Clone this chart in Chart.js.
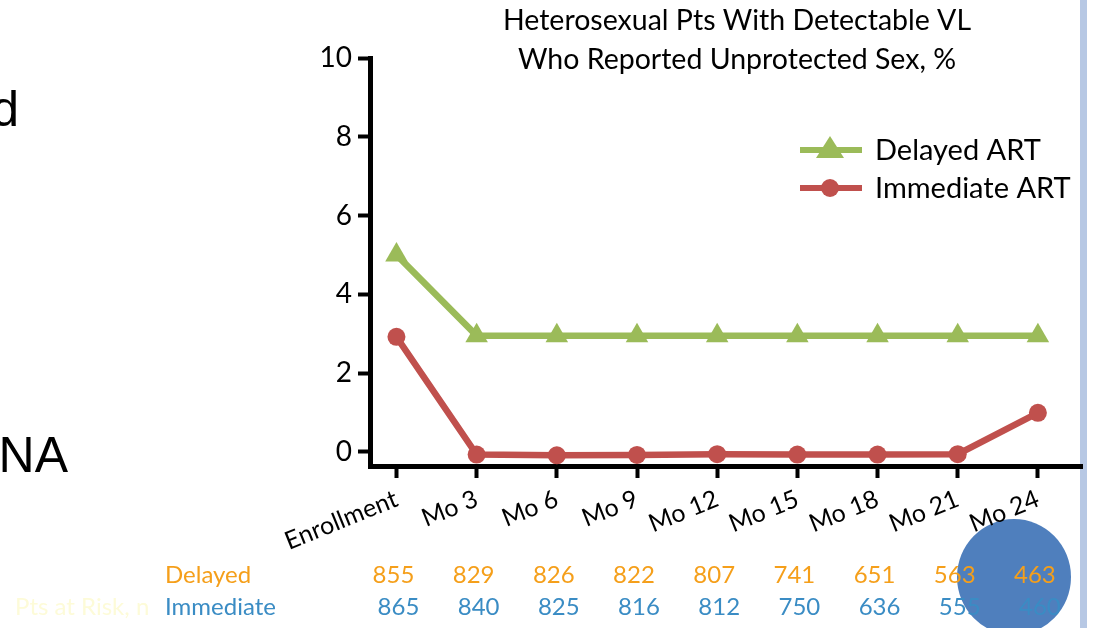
<!DOCTYPE html>
<html>
<head>
<meta charset="utf-8">
<script src="https://cdn.jsdelivr.net/npm/chart.js@4.4.1/dist/chart.umd.min.js"></script>
<style>
  html, body { margin: 0; padding: 0; background: #ffffff; }
  #wrap { position: relative; width: 1095px; height: 628px; overflow: hidden; }
  canvas { display: block; }
</style>
</head>
<body>
<div id="wrap"><canvas id="c" width="1095" height="628"></canvas></div>
<script>
// Visit labels along the x axis
const categories = ['Enrollment', 'Mo 3', 'Mo 6', 'Mo 9', 'Mo 12', 'Mo 15', 'Mo 18', 'Mo 21', 'Mo 24'];
// % reporting unprotected sex, by arm
const delayedPct = [5.0, 2.95, 2.95, 2.95, 2.95, 2.95, 2.95, 2.95, 2.95];
const immediatePct = [2.92, -0.07, -0.09, -0.08, -0.06, -0.07, -0.07, -0.06, 0.99];
// y axis ticks
const yTicks = [0, 2, 4, 6, 8, 10];
// patients at risk, by arm
const delayedAtRisk = [855, 829, 826, 822, 807, 741, 651, 563, 463];
const immediateAtRisk = [865, 840, 825, 816, 812, 750, 636, 555, 460];
const titleLines = ['Heterosexual Pts With Detectable VL', 'Who Reported Unprotected Sex, %'];

const FONT = 'Lato, "Open Sans", sans-serif';
const GREEN = '#9bbb59';
const RED = '#c0504d';
const ORANGE = '#f59f1a';
const BLUE = '#3a8cc4';

const decor = {
  id: 'decor',
  beforeDraw(chart) {
    const ctx = chart.ctx;
    ctx.save();
    // slide backdrop pieces
    ctx.fillStyle = '#4f7fbd';
    ctx.beginPath();
    ctx.ellipse(1014, 577, 57, 58, 0, 0, Math.PI * 2);
    ctx.fill();
    ctx.fillStyle = '#b7c8e4';
    ctx.fillRect(1080, 0, 7, 628);
    ctx.fillStyle = '#000';
    ctx.font = '50px "Liberation Sans", Arial, sans-serif';
    ctx.textAlign = 'right';
    ctx.textBaseline = 'alphabetic';
    ctx.fillText('d', 19, 126);
    ctx.fillText('RNA', 68, 472);
    ctx.restore();
  },
  afterDraw(chart) {
    const ctx = chart.ctx;
    const xs = chart.scales.x;
    ctx.save();
    // title
    ctx.fillStyle = '#000';
    ctx.font = '28.5px ' + FONT;
    ctx.textAlign = 'center';
    ctx.textBaseline = 'middle';
    ctx.fillText(titleLines[0], 737, 21);
    ctx.fillText(titleLines[1], 737, 60);

    // legend
    chart.data.datasets.forEach((ds, i) => {
      const y = 150 + i * 38;
      ctx.strokeStyle = ds.borderColor;
      ctx.lineWidth = 6;
      ctx.beginPath();
      ctx.moveTo(800, y);
      ctx.lineTo(862, y);
      ctx.stroke();
      ctx.fillStyle = ds.borderColor;
      ctx.beginPath();
      if (ds.pointStyle === 'triangle') {
        ctx.moveTo(830, y - 14);
        ctx.lineTo(844, y + 8);
        ctx.lineTo(816, y + 8);
        ctx.closePath();
      } else {
        ctx.arc(830, y, 9, 0, Math.PI * 2);
      }
      ctx.fill();
      ctx.fillStyle = '#000';
      ctx.font = '29px ' + FONT;
      ctx.textAlign = 'left';
      ctx.textBaseline = 'middle';
      ctx.fillText(ds.label, 875, y + 1);
    });

    // patients at risk table
    ctx.font = '24px ' + FONT;
    ctx.textBaseline = 'middle';
    ctx.textAlign = 'left';
    ctx.fillStyle = '#fdfbd8';
    ctx.fillText('Pts at Risk, n', 15, 607);
    ctx.fillStyle = ORANGE;
    ctx.fillText('Delayed', 165, 575);
    ctx.fillStyle = BLUE;
    ctx.fillText('Immediate', 165, 607);
    ctx.textAlign = 'center';
    categories.forEach((c, i) => {
      const x = xs.getPixelForValue(i);
      ctx.fillStyle = ORANGE;
      ctx.fillText(String(delayedAtRisk[i]), x - 3, 575);
      ctx.fillStyle = BLUE;
      ctx.fillText(String(immediateAtRisk[i]), x + 2, 607);
    });
    ctx.restore();
  }
};

new Chart(document.getElementById('c'), {
  type: 'line',
  data: {
    datasets: [
      {
        label: 'Delayed ART',
        data: delayedPct.map((v, i) => ({ x: i, y: v })),
        borderColor: GREEN,
        backgroundColor: GREEN,
        borderWidth: 6.5,
        pointStyle: 'triangle',
        pointRadius: 13,
        pointBorderWidth: 0,
        tension: 0
      },
      {
        label: 'Immediate ART',
        data: immediatePct.map((v, i) => ({ x: i, y: v })),
        borderColor: RED,
        backgroundColor: RED,
        borderWidth: 6.5,
        pointStyle: 'circle',
        pointRadius: 9,
        pointBorderWidth: 0,
        tension: 0
      }
    ]
  },
  options: {
    responsive: false,
    animation: false,
    layout: { padding: { top: 58, right: 8, left: 0, bottom: 0 } },
    plugins: { legend: { display: false }, title: { display: false }, tooltip: { enabled: false } },
    scales: {
      x: {
        type: 'linear',
        min: -0.33,
        max: 8.55,
        afterBuildTicks(scale) { scale.ticks = categories.map((_, i) => ({ value: i })); },
        afterFit(scale) { scale.height = 162; },
        border: { display: true, color: '#000', width: 5 },
        grid: { drawOnChartArea: false, drawTicks: true, tickLength: 12, tickWidth: 4, tickColor: '#000' },
        ticks: {
          color: '#000',
          font: { family: FONT, size: 25 },
          minRotation: 22,
          maxRotation: 22,
          padding: 6,
          callback: (v) => categories[v]
        }
      },
      y: {
        min: -0.36,
        max: 10,
        afterBuildTicks(scale) { scale.ticks = yTicks.map(v => ({ value: v })); },
        afterFit(scale) { scale.width = 370; },
        border: { display: true, color: '#000', width: 5 },
        grid: { drawOnChartArea: false, drawTicks: true, tickLength: 12, tickWidth: 4, tickColor: '#000' },
        ticks: {
          color: '#000',
          font: { family: FONT, size: 28 },
          padding: 6
        }
      }
    }
  },
  plugins: [decor]
});
</script>
</body>
</html>
